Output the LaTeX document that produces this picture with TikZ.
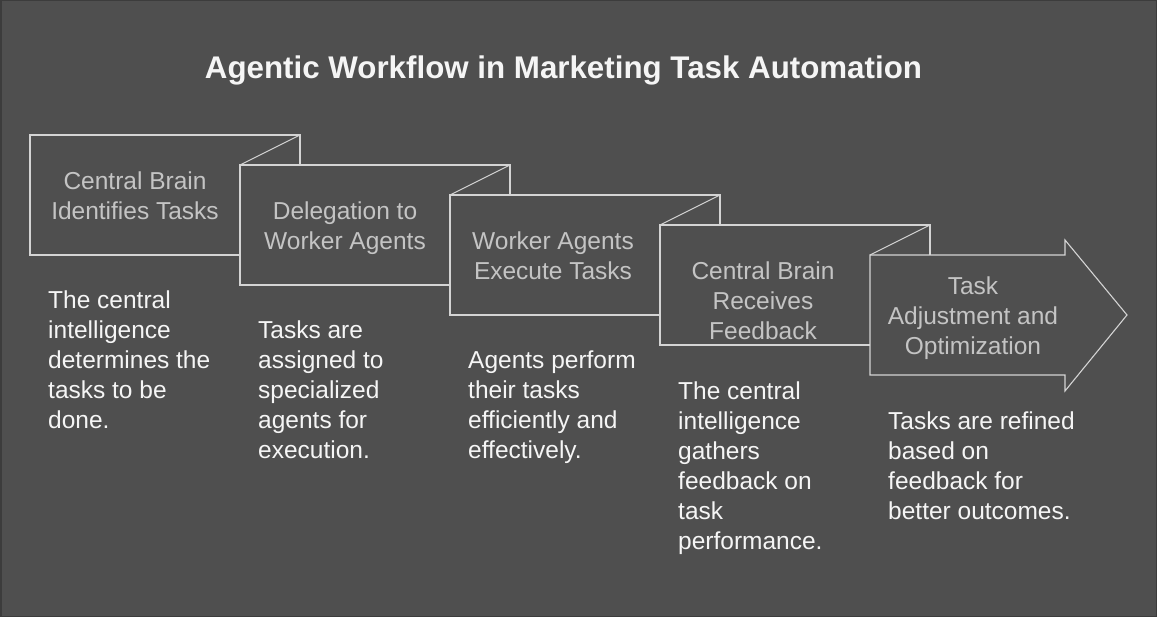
\documentclass[tikz,border=0pt]{standalone}
\usepackage{fontspec}
\setmainfont{Liberation Sans}
\definecolor{bg}{HTML}{4F4F4F}
\definecolor{frame}{HTML}{3C3C3C}
\definecolor{outline}{HTML}{D4D4D4}
\definecolor{boxtext}{HTML}{C4C4C4}
\definecolor{desctext}{HTML}{F5F5F5}
\tikzset{
  stagebox/.style={draw=outline, line width=1.1pt, line join=miter},
  boxlabel/.style={text=boxtext, align=center, anchor=base, inner sep=0pt,
    font=\fontsize{24.5}{30}\selectfont},
  desclabel/.style={text=desctext, align=left, anchor=base west, inner sep=0pt,
    font=\fontsize{24.5}{30}\selectfont},
  titlelabel/.style={text=desctext, anchor=base, inner sep=0pt,
    font=\fontsize{31.3}{36}\selectfont\bfseries}
}
\begin{document}
\begin{tikzpicture}[x=1pt,y=-1pt]
\useasboundingbox (0,0) rectangle (1157,617);
\fill[bg] (0,0) rectangle (1157,617);
\draw[frame, line width=1.5pt] (0.75,0.75) rectangle (1156.25,616.25);

\node[titlelabel] (title) at (563.5,78.5) {Agentic Workflow in Marketing Task Automation};

% folded stage boxes
\foreach \i in {0,1,2,3} {
  \pgfmathsetmacro{\bx}{30+210*\i}
  \pgfmathsetmacro{\by}{135+30*\i}
  \draw[stagebox] (\bx+210,\by+120) -- (\bx,\by+120) -- (\bx,\by) -- (\bx+270,\by) -- (\bx+270,\by+30);
  \draw[stagebox] (\bx+270,\by) -- (\bx+210,\by+30);
}
% final arrow
\draw[stagebox] (870,255) -- (1065,255) -- (1065,240) -- (1127,315) -- (1065,391) -- (1065,375) -- (870,375) -- cycle;
% top edges of boxes 2-4 between fold and previous box's right edge
\foreach \i in {1,2,3} {
  \pgfmathsetmacro{\bx}{30+210*\i}
  \pgfmathsetmacro{\by}{135+30*\i}
  \draw[stagebox] (\bx,\by) -- (\bx,\by+120);
}

% multi-line nodes: base anchor sits on the last line's baseline
\node[boxlabel] (s1) at (135,220) {Central Brain\\Identifies Tasks};
\node[boxlabel] (s2) at (345,250) {Delegation to\\Worker Agents};
\node[boxlabel] (s3) at (553,280) {Worker Agents\\Execute Tasks};
\node[boxlabel] (s4) at (763,340) {Central Brain\\Receives\\Feedback};
\node[boxlabel] (s5) at (973,355) {Task\\Adjustment and\\Optimization};

\node[desclabel] (d1) at (48,429) {The central\\intelligence\\determines the\\tasks to be\\done.};
\node[desclabel] (d2) at (258,459) {Tasks are\\assigned to\\specialized\\agents for\\execution.};
\node[desclabel] (d3) at (468,459) {Agents perform\\their tasks\\efficiently and\\effectively.};
\node[desclabel] (d4) at (678,549) {The central\\intelligence\\gathers\\feedback on\\task\\performance.};
\node[desclabel] (d5) at (888,519) {Tasks are refined\\based on\\feedback for\\better outcomes.};
\end{tikzpicture}
\end{document}
